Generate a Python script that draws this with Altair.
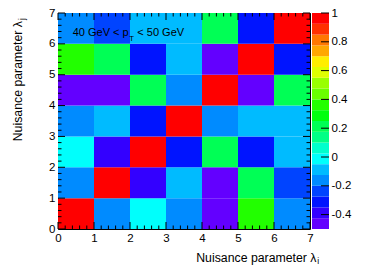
import colorsys
import altair as alt
import pandas as pd

FONT = "Liberation Sans"
W, H = 252, 216

# correlation matrix: rows = y bin (0..6), columns = x bin (0..6)
corr = [
    [1.00, -0.16, -0.01, -0.16, -0.46, 0.36, -0.16],
    [-0.16, 1.00, -0.39, -0.09, -0.46, 0.21, -0.24],
    [-0.01, -0.39, 1.00, -0.31, 0.21, -0.31, -0.09],
    [-0.16, -0.09, -0.31, 1.00, -0.16, -0.09, -0.09],
    [-0.46, -0.46, 0.21, -0.16, 1.00, -0.46, 0.21],
    [0.36, 0.21, -0.31, -0.09, -0.46, 1.00, -0.31],
    [-0.16, -0.24, -0.09, -0.09, 0.21, -0.31, 1.00],
]
axis_ticks = [0, 1, 2, 3, 4, 5, 6, 7]
z_ticks = [-0.4, -0.2, 0, 0.2, 0.4, 0.6, 0.8, 1]
levels = [-0.5, -0.425, -0.35, -0.275, -0.2, -0.125, -0.05, 0.025, 0.1, 0.175,
          0.25, 0.325, 0.4, 0.475, 0.55, 0.625, 0.7, 0.775, 0.85, 0.925, 1.0]
hues = [263.2, 252.0, 235.2, 224.0, 207.2, 196.0, 179.2, 168.0, 151.2, 140.0,
        123.2, 112.0, 95.2, 84.0, 67.2, 56.0, 39.2, 28.0, 11.2, 0.0]


def hsl_hex(h):
    r, g, b = colorsys.hls_to_rgb(h / 360.0, 0.5, 1.0)
    return "#%02x%02x%02x" % (round(r * 255), round(g * 255), round(b * 255))


palette = [hsl_hex(h) for h in hues]

cells = pd.DataFrame([
    {"x0": i, "x1": i + 1, "y0": j, "y1": j + 1, "v": corr[j][i]}
    for j in range(7) for i in range(7)
])
bands = pd.DataFrame({"lo": levels[:-1], "hi": levels[1:]})
bands["mid"] = (bands["lo"] + bands["hi"]) / 2

color_scale = alt.Scale(type="threshold", domain=levels[1:-1], range=palette)

common = dict(ticks=False, domain=False, grid=False, title=None, labelFont=FONT,
              labelFontSize=11.5, labelColor="black", labelFlush=False,
              labelOverlap=False, labelExpr="'' + datum.value")
xaxis = alt.Axis(values=axis_ticks, labelPadding=3, **common)
yaxis = alt.Axis(values=axis_ticks, labelPadding=3, **common)
zaxis = alt.Axis(values=z_ticks, orient="right", offset=19, labelPadding=2, **common)

xs = alt.Scale(domain=[0, 7], nice=False, zero=False)
ys = alt.Scale(domain=[0, 7], nice=False, zero=False)
zs = alt.Scale(domain=[-0.5, 1.0], nice=False, zero=False)

heat = alt.Chart(cells).mark_rect().encode(
    x=alt.X("x0:Q", scale=xs, axis=xaxis), x2="x1",
    y=alt.Y("y0:Q", scale=ys, axis=yaxis), y2="y1",
    color=alt.Color("v:Q", scale=color_scale, legend=None),
)

major = pd.DataFrame({"t": axis_ticks})
minor = pd.DataFrame({"t": [round(i * 0.2, 1) for i in range(36) if i % 5]})

tick_layers = []
for df, L in [(major, 7), (minor, 3.5)]:
    base = alt.Chart(df).mark_rule(color="black", strokeWidth=1)
    tx = alt.X("t:Q", scale=xs, axis=xaxis)
    ty = alt.Y("t:Q", scale=ys, axis=yaxis)
    tick_layers += [
        base.encode(x=tx, y=alt.value(H), y2=alt.value(H - L)),
        base.encode(x=tx, y=alt.value(0), y2=alt.value(L)),
        base.encode(y=ty, x=alt.value(0), x2=alt.value(L)),
        base.encode(y=ty, x=alt.value(W), x2=alt.value(W - L)),
    ]

one = pd.DataFrame({"a": [0]})


def txt(s, x, y, size, angle=0, align="left"):
    return alt.Chart(one).mark_text(
        text=s, font=FONT, fontSize=size, color="black", align=align,
        baseline="alphabetic", angle=angle,
    ).encode(x=alt.value(x), y=alt.value(y))


texts = [
    txt("40 GeV < p", 14.7, 23.3, 11),
    txt("T", 71.3, 27.7, 7.7),
    txt("< 50 GeV", 79.3, 23.3, 11),
    txt("Nuisance parameter λ", 258.5, 248.5, 12.3, align="right"),
    txt("i", 259.3, 251, 8.6),
    txt("Nuisance parameter λ", -36.3, 8, 12.3, angle=270, align="right"),
    txt("j", -32.8, 7, 8.6, angle=270),
]

cbar = alt.Chart(bands).mark_rect().encode(
    x=alt.value(254), x2=alt.value(271),
    y=alt.Y("lo:Q", scale=zs, axis=zaxis), y2="hi",
    color=alt.Color("mid:Q", scale=color_scale, legend=None),
)
cbticks = alt.Chart(pd.DataFrame({"t": z_ticks})).mark_rule(color="black").encode(
    y=alt.Y("t:Q", scale=zs, axis=zaxis), x=alt.value(263), x2=alt.value(271),
)

left = alt.layer(heat, *tick_layers, *texts)
right = alt.layer(cbar, cbticks)

chart = alt.layer(left, right).resolve_scale(y="independent").properties(
    width=W, height=H,
    autosize=alt.AutoSizeParams(type="none"),
    padding={"left": 50, "top": 5, "right": 47, "bottom": 36},
).configure_view(stroke="black", strokeWidth=1)

chart.save("out.html", embed_options={"renderer": "svg", "actions": False})
